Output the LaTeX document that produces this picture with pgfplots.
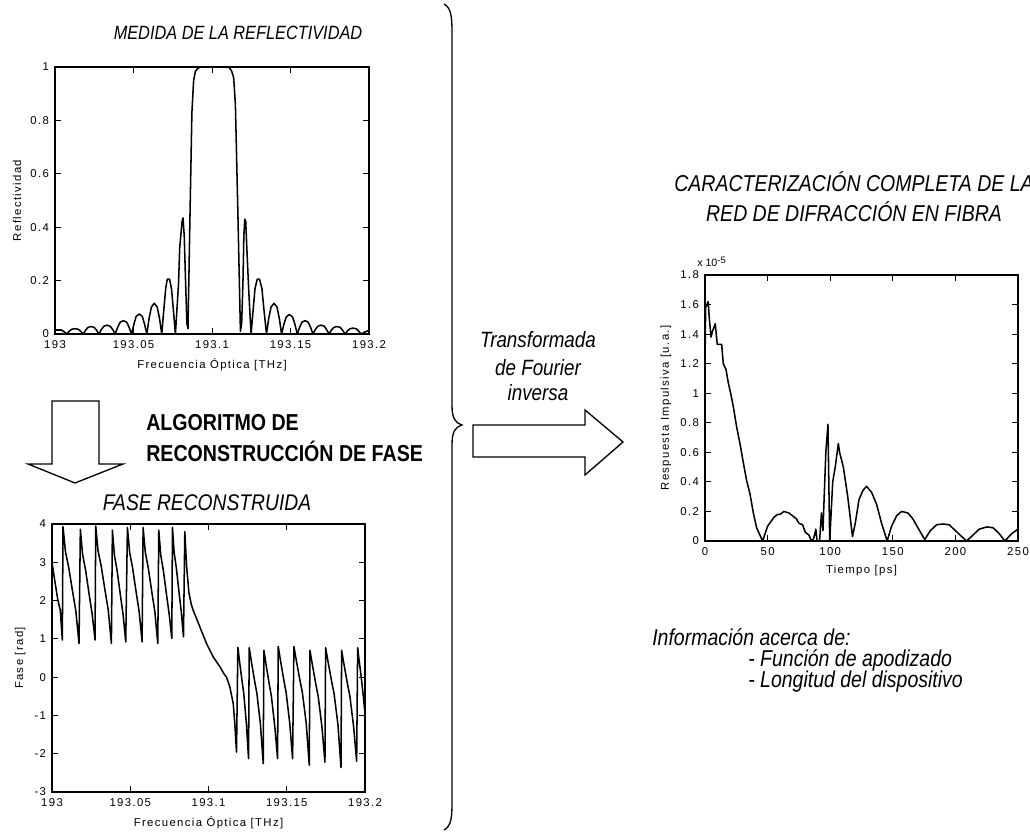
\documentclass[border=0pt]{standalone}
\usepackage{fontspec}
\setmainfont{Liberation Sans}
\newfontfamily\narrow[FakeStretch=0.85]{Liberation Sans}
\newfontfamily\tickfont[LetterSpace=12]{Liberation Sans}
\usepackage{pgfplots}
\pgfplotsset{compat=1.18}
\pgfplotsset{matstyle/.style={scale only axis,
  axis line style={line width=0.9pt},
  tick style={black,line width=0.6pt},
  major tick length=4.5pt, tick align=inside,
  tick label style={font=\tickfont\fontsize{8.5}{10}\selectfont},
  xticklabel style={yshift=-1.5pt},
  yticklabel style={xshift=-1pt},
  label style={font=\tickfont\fontsize{8.5}{10}\selectfont},
  /pgf/number format/assume math mode=true},
  matline/.style={black, line width=1.15pt, line join=round, mark=none}}
\begin{document}
\begin{tikzpicture}[x=0.75pt,y=0.75pt]
\useasboundingbox (0,0) rectangle (1030,834);
\clip (0,0) rectangle (1030,834);

% ---------- Reflectivity ----------
\begin{axis}[matstyle, at={(41.25pt,375pt)}, anchor=south west,
  width=235.5pt, height=200.25pt,
  xmin=193, xmax=193.2, ymin=0, ymax=1,
  xtick={193,193.05,193.1,193.15,193.2},
  xticklabels={193,193.05,193.1,193.15,193.2},
  ytick={0,0.2,0.4,0.6,0.8,1},
  yticklabels={0,0.2,0.4,0.6,0.8,1},
  xlabel={Frecuencia Óptica [THz]}, ylabel={Reflectividad},
  xlabel style={yshift=-0.5pt}]
\addplot[matline] coordinates {
(193.000,0.015)(193.004,0.015)(193.0060,0.008)(193.0074,0)
(193.0090,0.010)(193.0106,0.0176)(193.0127,0.02)(193.0148,0.0176)(193.0164,0.010)(193.0180,0)
(193.0195,0.014)(193.0210,0.0246)(193.0230,0.028)(193.0250,0.0246)(193.0265,0.014)(193.0280,0)
(193.0295,0.0165)(193.0311,0.029)(193.0332,0.033)(193.0352,0.029)(193.0368,0.0165)(193.0383,0)
(193.0399,0.025)(193.0415,0.044)(193.0436,0.05)(193.0457,0.044)(193.0472,0.025)(193.0488,0)
(193.0503,0.0375)(193.0517,0.066)(193.0537,0.075)(193.0556,0.066)(193.0570,0.0375)(193.0585,0)
(193.0599,0.0575)(193.0614,0.101)(193.0632,0.115)(193.0651,0.101)(193.0666,0.0575)(193.0680,0)
(193.0693,0.09)(193.0705,0.17)(193.0715,0.205)(193.0730,0.205)(193.0742,0.17)(193.0754,0.09)(193.0767,0)
(193.0787,0.19)(193.0794,0.32)(193.0809,0.42)(193.0815,0.435)(193.0823,0.37)(193.0832,0.19)(193.0840,0.04)(193.0847,0.02)
(193.0860,0.45)(193.0872,0.83)(193.0883,0.95)(193.0895,0.985)(193.0910,0.995)(193.0930,1.0)(193.1000,1.0)(193.1060,1.0)
(193.1110,0.998)(193.1125,0.985)(193.1138,0.96)(193.1149,0.86)(193.1165,0.45)(193.1181,0.01)
(193.1189,0.04)(193.1197,0.19)(193.1203,0.37)(193.1209,0.43)(193.1215,0.42)(193.1222,0.32)(193.1235,0.15)(193.1249,0)
(193.1262,0.09)(193.1274,0.17)(193.1288,0.205)(193.1303,0.205)(193.1318,0.17)(193.1331,0.09)(193.1347,0)
(193.1361,0.0575)(193.1376,0.101)(193.1395,0.115)(193.1414,0.101)(193.1429,0.0575)(193.1443,0)
(193.1458,0.0365)(193.1473,0.064)(193.1493,0.073)(193.1513,0.064)(193.1528,0.0365)(193.1543,0)
(193.1558,0.025)(193.1573,0.044)(193.1593,0.05)(193.1613,0.044)(193.1628,0.025)(193.1643,0)
(193.1658,0.0165)(193.1674,0.029)(193.1694,0.033)(193.1715,0.029)(193.1730,0.0165)(193.1745,0)
(193.1760,0.014)(193.1776,0.0246)(193.1796,0.028)(193.1817,0.0246)(193.1832,0.014)(193.1847,0)
(193.1862,0.011)(193.1878,0.0194)(193.1898,0.022)(193.1919,0.0194)(193.1934,0.011)(193.1950,0)
(193.1975,0.008)(193.2,0.013)
};
\end{axis}

% ---------- Phase ----------
\begin{axis}[matstyle, at={(39pt,31.5pt)}, anchor=south west,
  width=234.75pt, height=201pt,
  xmin=193, xmax=193.2, ymin=-3, ymax=4,
  xtick={193,193.05,193.1,193.15,193.2},
  xticklabels={193,193.05,193.1,193.15,193.2},
  ytick={-3,-2,-1,0,1,2,3,4},
  yticklabels={-3,-2,-1,0,1,2,3,4},
  xlabel={Frecuencia Óptica [THz]}, ylabel={Fase [rad]},
  xlabel style={yshift=-0.5pt}]
\addplot[matline] coordinates {
(193.0000,3.0)(193.0017,2.54)(193.0038,2.0)(193.0053,1.75)(193.0066,0.97)
(193.00704,3.93)(193.00857,3.28)(193.01062,2.88)(193.01318,2.23)(193.01522,1.73)(193.01727,0.88)
(193.01812,3.86)(193.01953,3.21)(193.02141,2.81)(193.02375,2.16)(193.02563,1.66)(193.02751,0.97)
(193.02793,3.95)(193.02943,3.30)(193.03144,2.90)(193.03394,2.25)(193.03595,1.75)(193.03795,0.88)
(193.03859,3.84)(193.03987,3.19)(193.04158,2.79)(193.04371,2.14)(193.04541,1.64)(193.04712,0.92)
(193.04819,3.91)(193.04960,3.26)(193.05147,2.86)(193.05382,2.21)(193.05569,1.71)(193.05757,0.92)
(193.05821,3.91)(193.05962,3.26)(193.06149,2.86)(193.06384,2.21)(193.06571,1.71)(193.06759,0.88)
(193.06823,3.84)(193.06948,3.19)(193.07114,2.79)(193.07322,2.14)(193.07489,1.64)(193.07655,1.01)
(193.07697,3.91)(193.07803,3.26)(193.07943,2.86)(193.08119,2.21)(193.08260,1.71)(193.08401,1.05)
(193.08486,3.80)(193.0860,2.9)(193.0875,2.2)(193.0890,1.9)(193.0902,1.75)(193.0945,1.31)(193.0987,0.88)
(193.1030,0.53)(193.1073,0.27)(193.1100,0.08)(193.1115,0.0)(193.1136,-0.25)(193.1158,-0.69)(193.1168,-1.21)(193.1179,-1.96)
(193.11876,0.78)(193.11978,0.43)(193.12149,-0.12)(193.12252,-0.42)(193.12422,-1.22)(193.12559,-2.13)
(193.12601,0.77)(193.12735,0.42)(193.12959,-0.13)(193.13094,-0.43)(193.13318,-1.23)(193.13497,-2.26)
(193.13539,0.70)(193.13670,0.35)(193.13889,-0.20)(193.14020,-0.50)(193.14239,-1.30)(193.14414,-2.13)
(193.14456,0.80)(193.14594,0.45)(193.14823,-0.10)(193.14960,-0.40)(193.15190,-1.20)(193.15373,-2.13)
(193.15458,0.80)(193.15605,0.45)(193.15850,-0.10)(193.15998,-0.40)(193.16243,-1.20)(193.16439,-2.30)
(193.16482,0.70)(193.16626,0.35)(193.16866,-0.20)(193.17009,-0.50)(193.17249,-1.30)(193.17441,-2.22)
(193.17484,0.77)(193.17631,0.42)(193.17876,-0.13)(193.18024,-0.43)(193.18269,-1.23)(193.18465,-2.36)
(193.18507,0.70)(193.18651,0.35)(193.18891,-0.20)(193.19035,-0.50)(193.19275,-1.30)(193.19467,-2.20)
(193.19531,0.77)(193.19620,0.45)(193.19760,0.0)(193.19880,-0.45)(193.2,-0.95)
};
\end{axis}

% ---------- Impulse response ----------
\begin{axis}[matstyle, at={(528.75pt,219.75pt)}, anchor=south west,
  width=234.75pt, height=199.5pt,
  xmin=0, xmax=250, ymin=0, ymax=1.8,
  xtick={0,50,100,150,200,250},
  xticklabels={0,50,100,150,200,250},
  ytick={0,0.2,0.4,0.6,0.8,1,1.2,1.4,1.6,1.8},
  yticklabels={0,0.2,0.4,0.6,0.8,1,1.2,1.4,1.6,1.8},
  xlabel={Tiempo [ps]}, ylabel={Respuesta Impulsiva [u.a.]},
  xlabel style={yshift=-0.5pt}]
\addplot[matline] coordinates {
(0,1.2)(0.5,1.58)(1.5,1.6)(2.5,1.62)(3.5,1.5)(4.8,1.38)(6,1.42)(8.2,1.47)(9.8,1.33)(13.3,1.33)
(14.6,1.2)(16.8,1.16)(18.6,1.07)(20.5,1.0)(22.6,0.91)(25.3,0.77)(27.9,0.66)(30.6,0.53)(33.2,0.41)
(35.9,0.32)(38.6,0.19)(41.2,0.09)(46,0.0)(50,0.1)(55,0.16)(58,0.18)(60,0.18)(63,0.2)(67,0.19)
(70,0.17)(73,0.15)(75,0.12)(78,0.11)(80,0.06)(83,0.04)(84.5,0.01)(86,0.0)(87.5,0.04)(88.5,0.08)
(89.5,0.0)(91.5,0.0)(93,0.19)(94.2,0.07)(96.5,0.6)(98.2,0.79)(99.6,0.0)(102,0.4)(104,0.5)
(106.5,0.66)(107.5,0.6)(110.5,0.5)(114,0.3)(117.8,0.03)(120,0.12)(123,0.28)(126,0.34)(129,0.37)
(133,0.33)(137,0.25)(141,0.12)(145.5,0.0)(149,0.1)(153,0.17)(157,0.2)(162,0.19)(166,0.15)
(170,0.09)(175.5,0.01)(180,0.07)(185,0.11)(190,0.115)(195,0.11)(200,0.07)(205,0.03)(209,0.0)
(214,0.04)(219,0.08)(225,0.095)(230,0.09)(235,0.05)(239.5,0.0)(245,0.05)(250,0.08)
};
\end{axis}

% ---------- texts ----------
\node[font=\narrow\itshape\fontsize{14.4}{16}\selectfont] at (238,801) {MEDIDA DE LA REFLECTIVIDAD};
\node[font=\narrow\itshape\fontsize{17}{19}\selectfont] at (207,331) {FASE RECONSTRUIDA};
\node[anchor=west,inner sep=0pt,font=\narrow\bfseries\fontsize{17.3}{19}\selectfont] at (146,411) {ALGORITMO DE};
\node[anchor=west,inner sep=0pt,font=\narrow\bfseries\fontsize{17.3}{19}\selectfont] at (146,383) {RECONSTRUCCIÓN DE FASE};
\node[font=\narrow\itshape\fontsize{17.2}{19}\selectfont] at (854,652) {CARACTERIZACIÓN COMPLETA DE LA};
\node[font=\narrow\itshape\fontsize{17.2}{19}\selectfont] at (854,622) {RED DE DIFRACCIÓN EN FIBRA};
\node[font=\narrow\itshape\fontsize{16.6}{18}\selectfont] at (538,494) {Transformada};
\node[font=\narrow\itshape\fontsize{16.6}{18}\selectfont] at (538,466) {de Fourier};
\node[font=\narrow\itshape\fontsize{16.6}{18}\selectfont] at (538,441) {inversa};
\node[anchor=west,inner sep=0pt,font=\narrow\itshape\fontsize{17.2}{19}\selectfont] at (652,197) {Información acerca de:};
\node[anchor=west,inner sep=0pt,font=\narrow\itshape\fontsize{17.2}{19}\selectfont] at (748,174) {- Función de apodizado};
\node[anchor=west,inner sep=0pt,font=\narrow\itshape\fontsize{17.2}{19}\selectfont] at (748,152) {- Longitud del dispositivo};
\node[anchor=base west,inner sep=0pt,font=\fontsize{8}{9}\selectfont] at (697,567) {x 10\raisebox{0.6ex}{\fontsize{7}{8}\selectfont -5}};

% ---------- arrows and brace ----------
\draw[line width=1pt, line join=miter] (52,433) -- (99,433) -- (99,370) -- (123,370) -- (75,351) -- (28,370) -- (52,370) -- cycle;
\draw[line width=1pt, line join=miter] (473,409) -- (585,409) -- (585,424) -- (623,392) -- (585,359) -- (585,377) -- (473,377) -- cycle;
\draw[line width=1pt] (444,830) .. controls (452,826) and (452,814) .. (452,799)
  -- (452,429) .. controls (452,416) and (455,411) .. (462,409)
  .. controls (455,407) and (452,402) .. (452,389)
  -- (452,34) .. controls (452,19) and (452,8) .. (444,4);
\end{tikzpicture}
\end{document}
